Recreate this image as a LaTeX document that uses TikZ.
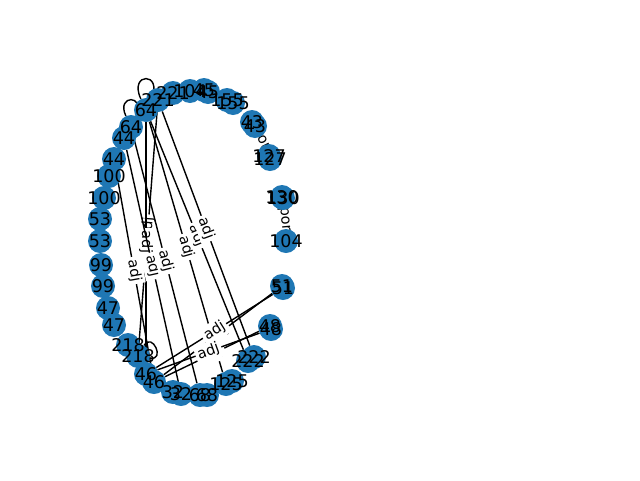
\documentclass[tikz,border=0pt]{standalone}
\usepackage{fontspec}
\setmainfont{DejaVu Sans}
\usetikzlibrary{backgrounds}
\definecolor{nxblue}{HTML}{1F77B4}
\begin{document}
\begin{tikzpicture}[
  x=1pt, y=-1pt,
  vnode/.style={circle, fill=nxblue, minimum size=24pt, inner sep=0pt},
  vtext/.style={inner sep=0pt, font=\fontsize{17.5}{17.5}\selectfont},
  elabel/.style={midway, sloped, fill=white, inner sep=2.5pt, font=\fontsize{14.5}{14.5}\selectfont},
  eline/.style={black, line width=1.4pt}
]
  \useasboundingbox (0,0) rectangle (640,480);

  % circles
  \node[vnode] (v1) at (146,110) {};
  \node[vnode] (v2) at (158,100) {};
  \node[vnode] (v3) at (173,93) {};
  \node[vnode] (v4) at (190,91) {};
  \node[vnode] (v5) at (204,90) {};
  \node[vnode] (v6) at (208,92) {};
  \node[vnode] (v7) at (227,100) {};
  \node[vnode] (v8) at (233,103) {};
  \node[vnode] (v9) at (252,122) {};
  \node[vnode] (v10) at (255,126) {};
  \node[vnode] (v11) at (269,156) {};
  \node[vnode] (v12) at (270,159) {};
  \node[vnode] (v13) at (282,197) {};
  \node[vnode] (v14) at (283,198) {};
  \node[vnode] (v15) at (286,241) {};
  \node[vnode] (v16) at (282,286) {};
  \node[vnode] (v17) at (283,288) {};
  \node[vnode] (v18) at (270,326) {};
  \node[vnode] (v19) at (271,329) {};
  \node[vnode] (v20) at (248,361) {};
  \node[vnode] (v21) at (254,357) {};
  \node[vnode] (v22) at (226,384) {};
  \node[vnode] (v23) at (232,381) {};
  \node[vnode] (v24) at (200,395) {};
  \node[vnode] (v25) at (207,395) {};
  \node[vnode] (v26) at (173,392) {};
  \node[vnode] (v27) at (181,394) {};
  \node[vnode] (v28) at (146,374) {};
  \node[vnode] (v29) at (154,382) {};
  \node[vnode] (v30) at (128,345) {};
  \node[vnode] (v31) at (138,356) {};
  \node[vnode] (v32) at (114,325) {};
  \node[vnode] (v33) at (108,308) {};
  \node[vnode] (v34) at (103,286) {};
  \node[vnode] (v35) at (101,265) {};
  \node[vnode] (v36) at (100,241) {};
  \node[vnode] (v37) at (100,219) {};
  \node[vnode] (v38) at (104,198) {};
  \node[vnode] (v39) at (109,176) {};
  \node[vnode] (v40) at (114,159) {};
  \node[vnode] (v41) at (124,138) {};
  \node[vnode] (v42) at (131,127) {};

  % edges
  \begin{scope}[on background layer]
  \begin{scope}[eline]
    \draw (v2) -- (v31) node[elabel] {adj};
    \draw (v1) -- (v28) node[elabel] {adj};
    \draw (v40) -- (v29) node[elabel] {adj};
    \draw (v41) -- (v27) node[elabel] {adj};
    \draw (v42) -- (v24) node[elabel] {adj};
    \draw (v1) -- (v22) node[elabel] {adj};
    \draw (v1) -- (v20) node[elabel] {adj};
    \draw (v2) -- (v21) node[elabel] {adj};
    \draw (v16) -- (v29) node[elabel] {adj};
    \draw (v17) -- (v28) node[elabel] {adj};
    \draw (v18) -- (v29) node[elabel] {adj};
    \draw (v19) -- (v28) node[elabel] {adj};
    \draw (v9) -- (v11) node[elabel] {por};
    \draw (v13) -- (v15) node[elabel] {por};
    \draw (v42) to[out=115, in=65, min distance=24pt] (v42);
    \draw (v1) to[out=115, in=65, min distance=30pt] (v1);
    \draw (v31) to[out=60, in=-10, min distance=16pt] (v31);
  \end{scope}
  \end{scope}

  % labels
  \node[vtext] (t1) at (v1) {64};
  \node[vtext] (t2) at (v2) {221};
  \node[vtext] (t3) at (v3) {221};
  \node[vtext] (t4) at (v4) {104};
  \node[vtext] (t5) at (v5) {45};
  \node[vtext] (t6) at (v6) {45};
  \node[vtext] (t7) at (v7) {155};
  \node[vtext] (t8) at (v8) {155};
  \node[vtext] (t9) at (v9) {43};
  \node[vtext] (t10) at (v10) {43};
  \node[vtext] (t11) at (v11) {127};
  \node[vtext] (t12) at (v12) {127};
  \node[vtext] (t13) at (v13) {130};
  \node[vtext] (t14) at (v14) {130};
  \node[vtext] (t15) at (v15) {104};
  \node[vtext] (t16) at (v16) {51};
  \node[vtext] (t17) at (v17) {51};
  \node[vtext] (t18) at (v18) {48};
  \node[vtext] (t19) at (v19) {48};
  \node[vtext] (t20) at (v20) {222};
  \node[vtext] (t21) at (v21) {222};
  \node[vtext] (t22) at (v22) {125};
  \node[vtext] (t23) at (v23) {125};
  \node[vtext] (t24) at (v24) {68};
  \node[vtext] (t25) at (v25) {68};
  \node[vtext] (t26) at (v26) {32};
  \node[vtext] (t27) at (v27) {32};
  \node[vtext] (t28) at (v28) {46};
  \node[vtext] (t29) at (v29) {46};
  \node[vtext] (t30) at (v30) {218};
  \node[vtext] (t31) at (v31) {218};
  \node[vtext] (t32) at (v32) {47};
  \node[vtext] (t33) at (v33) {47};
  \node[vtext] (t34) at (v34) {99};
  \node[vtext] (t35) at (v35) {99};
  \node[vtext] (t36) at (v36) {53};
  \node[vtext] (t37) at (v37) {53};
  \node[vtext] (t38) at (v38) {100};
  \node[vtext] (t39) at (v39) {100};
  \node[vtext] (t40) at (v40) {44};
  \node[vtext] (t41) at (v41) {44};
  \node[vtext] (t42) at (v42) {64};
\end{tikzpicture}
\end{document}
